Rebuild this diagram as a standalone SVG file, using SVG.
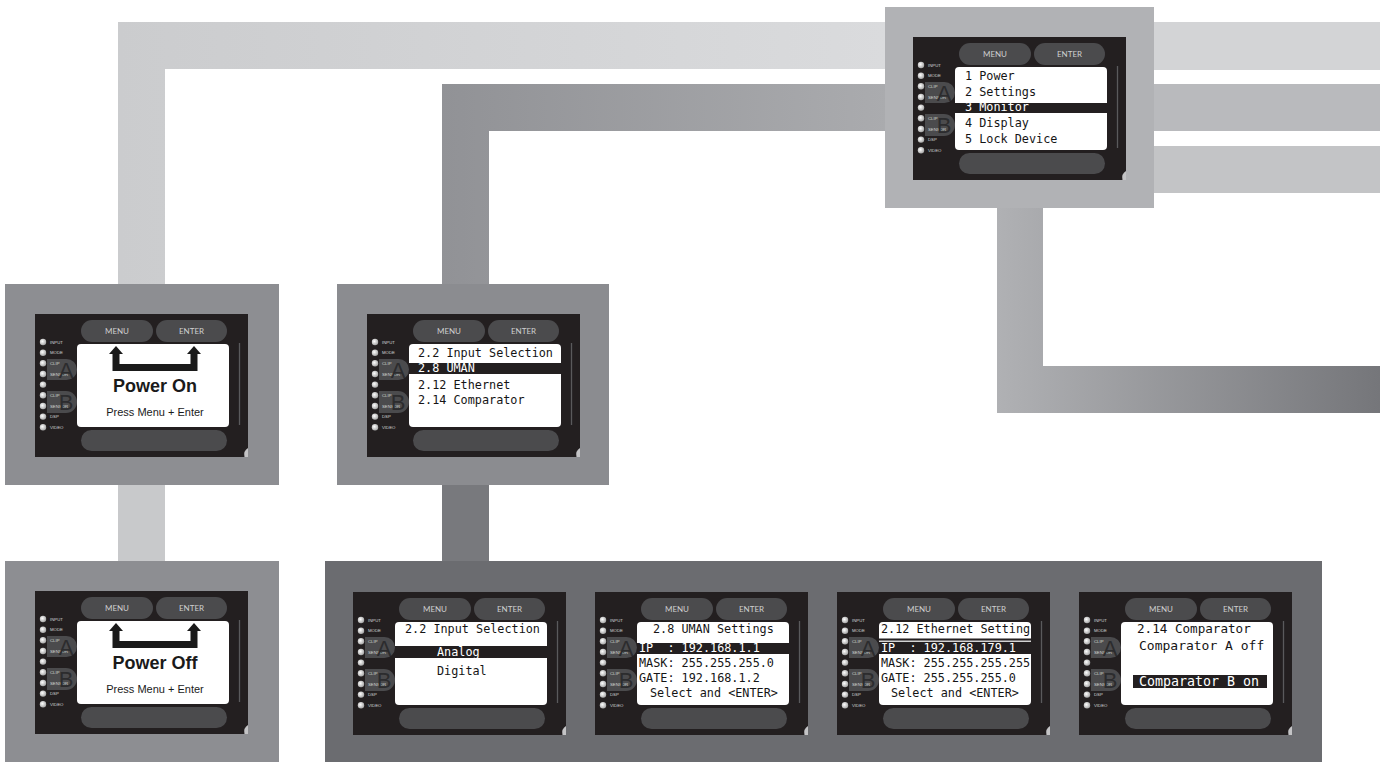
<svg xmlns="http://www.w3.org/2000/svg" xmlns:xlink="http://www.w3.org/1999/xlink" width="1388" height="762" viewBox="0 0 1388 762">
<style>
.panel{fill:#231f20}
.pill{fill:#4b4b4d}
.screen{fill:#ffffff}
.band{fill:#231f20}
.scroll{stroke:#5a5a5c;stroke-width:1.3;fill:none}
.led{fill:url(#ledg)}
.lbl{font-family:"Liberation Sans",Arial,sans-serif;font-size:4.3px;fill:#d6d6d6}
.ab{font-family:"Liberation Sans",Arial,sans-serif;font-size:22px;fill:#2c2c2e;text-anchor:middle}
.btn{font-family:"Lato","Liberation Sans",sans-serif;font-size:8px;fill:#cfcfcf;text-anchor:middle}
.lcd{font-family:"DejaVu Sans Mono","Liberation Mono",monospace;font-size:11.8px;fill:#151515;white-space:pre}
.w{fill:#ffffff}
.big{font-family:"Liberation Sans",Arial,sans-serif;font-size:18px;font-weight:bold;fill:#1a1a1a;text-anchor:middle}
.sub{font-family:"Liberation Sans",Arial,sans-serif;font-size:11px;fill:#1a1a1a;text-anchor:middle}
.notch{fill:#c4c4c6}
</style>
<defs>
<radialGradient id="ledg" cx="0.4" cy="0.4" r="0.6">
<stop offset="0" stop-color="#ffffff"/>
<stop offset="1" stop-color="#a9a9a9"/>
</radialGradient>
<linearGradient id="g1" x1="0" y1="0" x2="1" y2="0">
<stop offset="0" stop-color="#cbccce"/>
<stop offset="1" stop-color="#dadbdd"/>
</linearGradient>
<linearGradient id="g2" x1="0" y1="0" x2="1" y2="0">
<stop offset="0" stop-color="#919296"/>
<stop offset="1" stop-color="#aaabae"/>
</linearGradient>
<linearGradient id="g3" x1="0" y1="0" x2="1" y2="0">
<stop offset="0" stop-color="#b0b1b4"/>
<stop offset="1" stop-color="#75767a"/>
</linearGradient>
<g id="frame">
<rect class="panel" x="0" y="0" width="213" height="143"/>
<rect class="pill" x="46" y="6" width="72" height="22" rx="11"/>
<rect class="pill" x="121" y="6" width="71" height="22" rx="11"/>
<rect class="screen" x="42" y="30" width="152" height="83" rx="4"/>
<rect class="pill" x="46" y="116" width="146" height="21" rx="10.5"/>
<line class="scroll" x1="204.5" y1="29" x2="204.5" y2="111"/>
<path class="notch" d="M213,134 Q208,137 209.5,143 H213 Z"/>
<path class="pill" d="M12,45 H31.5 A10.5,10.5 0 0 1 31.5,66 H12 Z"/>
<path class="pill" d="M12,77 H31 A11,11 0 0 1 31,99 H12 Z"/>
<circle class="led" cx="8" cy="28" r="3.2"/>
<circle class="led" cx="8" cy="38.7" r="3.2"/>
<circle class="led" cx="8" cy="49.3" r="3.2"/>
<circle class="led" cx="8" cy="60" r="3.2"/>
<circle class="led" cx="8" cy="70.6" r="3.2"/>
<circle class="led" cx="8" cy="81.3" r="3.2"/>
<circle class="led" cx="8" cy="92" r="3.2"/>
<circle class="led" cx="8" cy="102.6" r="3.2"/>
<circle class="led" cx="8" cy="113.3" r="3.2"/>
</g>
</defs>
<rect x="0" y="0" width="1388" height="762" fill="#ffffff"/>

<g id="connectors">
<polygon points="118,284 118,22 886,22 886,69 165,69 165,284" fill="url(#g1)"/>
<rect x="1153" y="22" width="227" height="48" fill="#d3d4d6"/>
<polygon points="442,284 442,84 886,84 886,131 489,131 489,284" fill="url(#g2)"/>
<rect x="1153" y="84" width="227" height="47" fill="#b9babd"/>
<rect x="1153" y="146" width="227" height="47" fill="#c3c4c6"/>
<polygon points="997,207 1043,207 1043,366 1380,366 1380,413 997,413" fill="url(#g3)"/>
<rect x="118" y="484" width="47" height="78" fill="#c8c9cb"/>
<rect x="442" y="484" width="47" height="78" fill="#78797d"/>
</g>

<g id="node-main-menu">
<rect x="885" y="7" width="269" height="201" fill="#b1b2b5"/>
<g transform="translate(913,37)">
<use xlink:href="#frame"/>
<text class="lbl" x="15" y="29.5">INPUT</text>
<text class="lbl" x="15" y="40.2">MODE</text>
<text class="lbl" x="15" y="50.8">CLIP</text>
<text class="lbl" x="15" y="61.5">SENSOR</text>
<text class="lbl" x="15" y="82.8">CLIP</text>
<text class="lbl" x="15" y="93.5">SENSOR</text>
<text class="lbl" x="15" y="104.1">DSP</text>
<text class="lbl" x="15" y="114.8">VIDEO</text>
<text class="ab" x="31" y="64">A</text>
<text class="ab" x="31" y="96">B</text>
<text class="btn" x="82" y="20">MENU</text>
<text class="btn" x="156.5" y="20">ENTER</text>
<rect class="band" x="42" y="66" width="152" height="10"/>
<text class="lcd" x="52" y="43">1 Power</text>
<text class="lcd" x="52" y="59">2 Settings</text>
<text class="lcd w" x="52" y="74">3 Monitor</text>
<text class="lcd" x="52" y="90">4 Display</text>
<text class="lcd" x="52" y="106">5 Lock Device</text>
</g>
</g>

<g id="node-power-on">
<rect x="5" y="284" width="274" height="201" fill="#8d8e92"/>
<g transform="translate(35,314)">
<use xlink:href="#frame"/>
<text class="lbl" x="15" y="29.5">INPUT</text>
<text class="lbl" x="15" y="40.2">MODE</text>
<text class="lbl" x="15" y="50.8">CLIP</text>
<text class="lbl" x="15" y="61.5">SENSOR</text>
<text class="lbl" x="15" y="82.8">CLIP</text>
<text class="lbl" x="15" y="93.5">SENSOR</text>
<text class="lbl" x="15" y="104.1">DSP</text>
<text class="lbl" x="15" y="114.8">VIDEO</text>
<text class="ab" x="31" y="64">A</text>
<text class="ab" x="31" y="96">B</text>
<text class="btn" x="82" y="20">MENU</text>
<text class="btn" x="156.5" y="20">ENTER</text>
<path d="M81,39 V53.5 H159 V39" fill="none" stroke="#1a1a1a" stroke-width="7"/>
<polygon points="74,40 81,32 88,40" fill="#1a1a1a"/>
<polygon points="152,40 159,32 166,40" fill="#1a1a1a"/>
<text class="big" x="120" y="78">Power On</text>
<text class="sub" x="120" y="102">Press Menu + Enter</text>
</g>
</g>

<g id="node-settings-menu">
<rect x="337" y="284" width="272" height="201" fill="#8b8c90"/>
<g transform="translate(367,314)">
<use xlink:href="#frame"/>
<text class="lbl" x="15" y="29.5">INPUT</text>
<text class="lbl" x="15" y="40.2">MODE</text>
<text class="lbl" x="15" y="50.8">CLIP</text>
<text class="lbl" x="15" y="61.5">SENSOR</text>
<text class="lbl" x="15" y="82.8">CLIP</text>
<text class="lbl" x="15" y="93.5">SENSOR</text>
<text class="lbl" x="15" y="104.1">DSP</text>
<text class="lbl" x="15" y="114.8">VIDEO</text>
<text class="ab" x="31" y="64">A</text>
<text class="ab" x="31" y="96">B</text>
<text class="btn" x="82" y="20">MENU</text>
<text class="btn" x="156.5" y="20">ENTER</text>
<rect class="band" x="42" y="49" width="152" height="11"/>
<text class="lcd" x="51" y="43">2.2 Input Selection</text>
<text class="lcd w" x="51" y="58">2.8 UMAN</text>
<text class="lcd" x="51" y="75">2.12 Ethernet</text>
<text class="lcd" x="51" y="90">2.14 Comparator</text>
</g>
</g>

<g id="node-power-off">
<rect x="5" y="561" width="274" height="201" fill="#8d8e92"/>
<g transform="translate(35,591)">
<use xlink:href="#frame"/>
<text class="lbl" x="15" y="29.5">INPUT</text>
<text class="lbl" x="15" y="40.2">MODE</text>
<text class="lbl" x="15" y="50.8">CLIP</text>
<text class="lbl" x="15" y="61.5">SENSOR</text>
<text class="lbl" x="15" y="82.8">CLIP</text>
<text class="lbl" x="15" y="93.5">SENSOR</text>
<text class="lbl" x="15" y="104.1">DSP</text>
<text class="lbl" x="15" y="114.8">VIDEO</text>
<text class="ab" x="31" y="64">A</text>
<text class="ab" x="31" y="96">B</text>
<text class="btn" x="82" y="20">MENU</text>
<text class="btn" x="156.5" y="20">ENTER</text>
<path d="M81,39 V53.5 H159 V39" fill="none" stroke="#1a1a1a" stroke-width="7"/>
<polygon points="74,40 81,32 88,40" fill="#1a1a1a"/>
<polygon points="152,40 159,32 166,40" fill="#1a1a1a"/>
<text class="big" x="120" y="78">Power Off</text>
<text class="sub" x="120" y="102">Press Menu + Enter</text>
</g>
</g>

<g id="node-settings-panel">
<rect x="325" y="561" width="997" height="201" fill="#6b6c70"/>

<g id="node-input-selection" transform="translate(353,592)">
<use xlink:href="#frame"/>
<text class="lbl" x="15" y="29.5">INPUT</text>
<text class="lbl" x="15" y="40.2">MODE</text>
<text class="lbl" x="15" y="50.8">CLIP</text>
<text class="lbl" x="15" y="61.5">SENSOR</text>
<text class="lbl" x="15" y="82.8">CLIP</text>
<text class="lbl" x="15" y="93.5">SENSOR</text>
<text class="lbl" x="15" y="104.1">DSP</text>
<text class="lbl" x="15" y="114.8">VIDEO</text>
<text class="ab" x="31" y="64">A</text>
<text class="ab" x="31" y="96">B</text>
<text class="btn" x="82" y="20">MENU</text>
<text class="btn" x="156.5" y="20">ENTER</text>
<rect class="band" x="42" y="54" width="152" height="12"/>
<text class="lcd" x="52" y="41">2.2 Input Selection</text>
<text class="lcd w" x="84" y="64">Analog</text>
<text class="lcd" x="84" y="83">Digital</text>
</g>

<g id="node-uman-settings" transform="translate(595,592)">
<use xlink:href="#frame"/>
<text class="lbl" x="15" y="29.5">INPUT</text>
<text class="lbl" x="15" y="40.2">MODE</text>
<text class="lbl" x="15" y="50.8">CLIP</text>
<text class="lbl" x="15" y="61.5">SENSOR</text>
<text class="lbl" x="15" y="82.8">CLIP</text>
<text class="lbl" x="15" y="93.5">SENSOR</text>
<text class="lbl" x="15" y="104.1">DSP</text>
<text class="lbl" x="15" y="114.8">VIDEO</text>
<text class="ab" x="31" y="64">A</text>
<text class="ab" x="31" y="96">B</text>
<text class="btn" x="82" y="20">MENU</text>
<text class="btn" x="156.5" y="20">ENTER</text>
<rect class="band" x="42" y="51" width="152" height="11"/>
<text class="lcd" x="58" y="41">2.8 UMAN Settings</text>
<text class="lcd w" x="44" y="60" xml:space="preserve">IP  : 192.168.1.1</text>
<text class="lcd" x="44" y="75">MASK: 255.255.255.0</text>
<text class="lcd" x="44" y="90">GATE: 192.168.1.2</text>
<text class="lcd" x="55" y="105">Select and &lt;ENTER&gt;</text>
</g>

<g id="node-ethernet-settings" transform="translate(837,592)">
<use xlink:href="#frame"/>
<text class="lbl" x="15" y="29.5">INPUT</text>
<text class="lbl" x="15" y="40.2">MODE</text>
<text class="lbl" x="15" y="50.8">CLIP</text>
<text class="lbl" x="15" y="61.5">SENSOR</text>
<text class="lbl" x="15" y="82.8">CLIP</text>
<text class="lbl" x="15" y="93.5">SENSOR</text>
<text class="lbl" x="15" y="104.1">DSP</text>
<text class="lbl" x="15" y="114.8">VIDEO</text>
<text class="ab" x="31" y="64">A</text>
<text class="ab" x="31" y="96">B</text>
<text class="btn" x="82" y="20">MENU</text>
<text class="btn" x="156.5" y="20">ENTER</text>
<rect class="band" x="42" y="46.5" width="152" height="15.5"/>
<rect x="42" y="48.6" width="152" height="1.2" fill="#ffffff"/>
<text class="lcd" x="44" y="41">2.12 Ethernet Setting</text>
<text class="lcd w" x="44" y="59.5" xml:space="preserve">IP  : 192.168.179.1</text>
<text class="lcd" x="44" y="75">MASK: 255.255.255.255</text>
<text class="lcd" x="44" y="90">GATE: 255.255.255.0</text>
<text class="lcd" x="54" y="105">Select and &lt;ENTER&gt;</text>
</g>

<g id="node-comparator" transform="translate(1079,592)">
<use xlink:href="#frame"/>
<text class="lbl" x="15" y="29.5">INPUT</text>
<text class="lbl" x="15" y="40.2">MODE</text>
<text class="lbl" x="15" y="50.8">CLIP</text>
<text class="lbl" x="15" y="61.5">SENSOR</text>
<text class="lbl" x="15" y="82.8">CLIP</text>
<text class="lbl" x="15" y="93.5">SENSOR</text>
<text class="lbl" x="15" y="104.1">DSP</text>
<text class="lbl" x="15" y="114.8">VIDEO</text>
<text class="ab" x="31" y="64">A</text>
<text class="ab" x="31" y="96">B</text>
<text class="btn" x="82" y="20">MENU</text>
<text class="btn" x="156.5" y="20">ENTER</text>
<text class="lcd" x="58" y="41" style="font-size:12.6px">2.14 Comparator</text>
<text class="lcd" x="60" y="58" style="font-size:13px">Comparator A off</text>
<rect class="band" x="54" y="83" width="134" height="13"/>
<text class="lcd w" x="60" y="94" style="font-size:13.3px">Comparator B on</text>
</g>
</g>
</svg>
